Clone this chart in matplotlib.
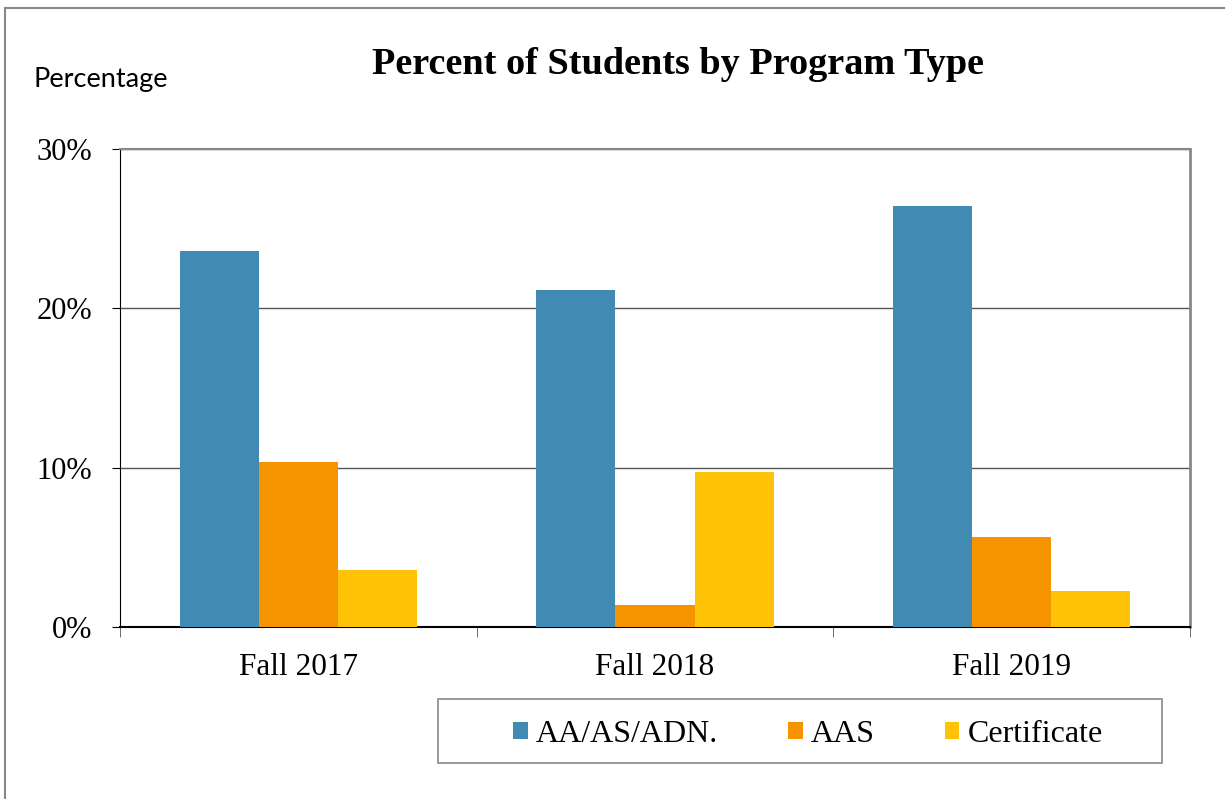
import numpy as np
import matplotlib.pyplot as plt
from matplotlib.lines import Line2D
from matplotlib.patches import Rectangle
from matplotlib.ticker import FuncFormatter

terms = ["Fall 2017", "Fall 2018", "Fall 2019"]
programs = ["AA/AS/ADN.", "AAS", "Certificate"]
aa_as_adn = [23.6, 21.15, 26.4]
aas = [10.35, 1.4, 5.65]
certificate = [3.6, 9.7, 2.25]
colors = ["#418AB3", "#F59300", "#FEC306"]

fig = plt.figure(figsize=(12.25, 7.99), dpi=100)
W, H = 1225, 799
ax = fig.add_axes([120 / W, 1 - 627 / H, 1070 / W, 478 / H])

x = np.arange(len(terms))
w = 0.222
for i, (vals, lab) in enumerate(zip([aa_as_adn, aas, certificate], programs)):
    ax.bar(x + (i - 1) * w, vals, width=w, color=colors[i], label=lab, zorder=3)

ax.set_xlim(-0.5, 2.5)
ax.set_ylim(0, 30)
ax.set_yticks([0, 10, 20, 30])
ax.yaxis.set_major_formatter(FuncFormatter(lambda v, p: f"{v:.0f}%"))
ax.set_xticks(x)
ax.set_xticklabels(terms)
ax.set_xticks([-0.5, 0.5, 1.5, 2.5], minor=True)
ax.tick_params(axis="x", which="major", length=0, pad=19)
ax.tick_params(axis="x", which="minor", length=7, color="#555555")
ax.tick_params(axis="y", length=6, pad=14)
for lab in ax.get_xticklabels():
    lab.set_fontfamily("Liberation Serif")
    lab.set_fontsize(22.5)
for lab in ax.get_yticklabels():
    lab.set_fontfamily("Liberation Serif")
    lab.set_fontsize(22)

ax.grid(axis="y", color="#555555", linewidth=1, zorder=0)
ax.spines["top"].set_color("#888888")
ax.spines["right"].set_color("#888888")
ax.spines["right"].set_linewidth(2)
ax.spines["top"].set_linewidth(1.5)
ax.spines["left"].set_color("#000000")
ax.spines["bottom"].set_color("#000000")
ax.spines["bottom"].set_linewidth(1.5)

fig.text(678 / W, 1 - 64 / H, "Percent of Students by Program Type",
         ha="center", va="center", fontsize=27.5, fontweight="bold",
         family="Liberation Serif")
fig.text(34 / W, 1 - 80 / H, "Percentage", ha="left", va="center",
         fontsize=19.5, family="Lato")

# legend box drawn separately, entries centred inside it
fig.add_artist(Rectangle((438 / W, 1 - 763 / H), 724 / W, 64 / H,
                         transform=fig.transFigure, fill=False,
                         edgecolor="#888888", linewidth=1.2))
fig.legend(loc="center", bbox_to_anchor=(808 / W, 1 - 734 / H),
           ncol=3, prop={"family": "Liberation Serif", "size": 23},
           frameon=False, handlelength=0.45, handleheight=0.45,
           handletextpad=0.25, columnspacing=2.2)

fig.add_artist(Line2D([5 / W, 5 / W], [0, 1 - 8 / H], color="#888888",
                      linewidth=1.5, transform=fig.transFigure))
fig.add_artist(Line2D([5 / W, 1], [1 - 8 / H, 1 - 8 / H], color="#888888",
                      linewidth=1.5, transform=fig.transFigure))

fig.savefig("out.png", dpi=100)
